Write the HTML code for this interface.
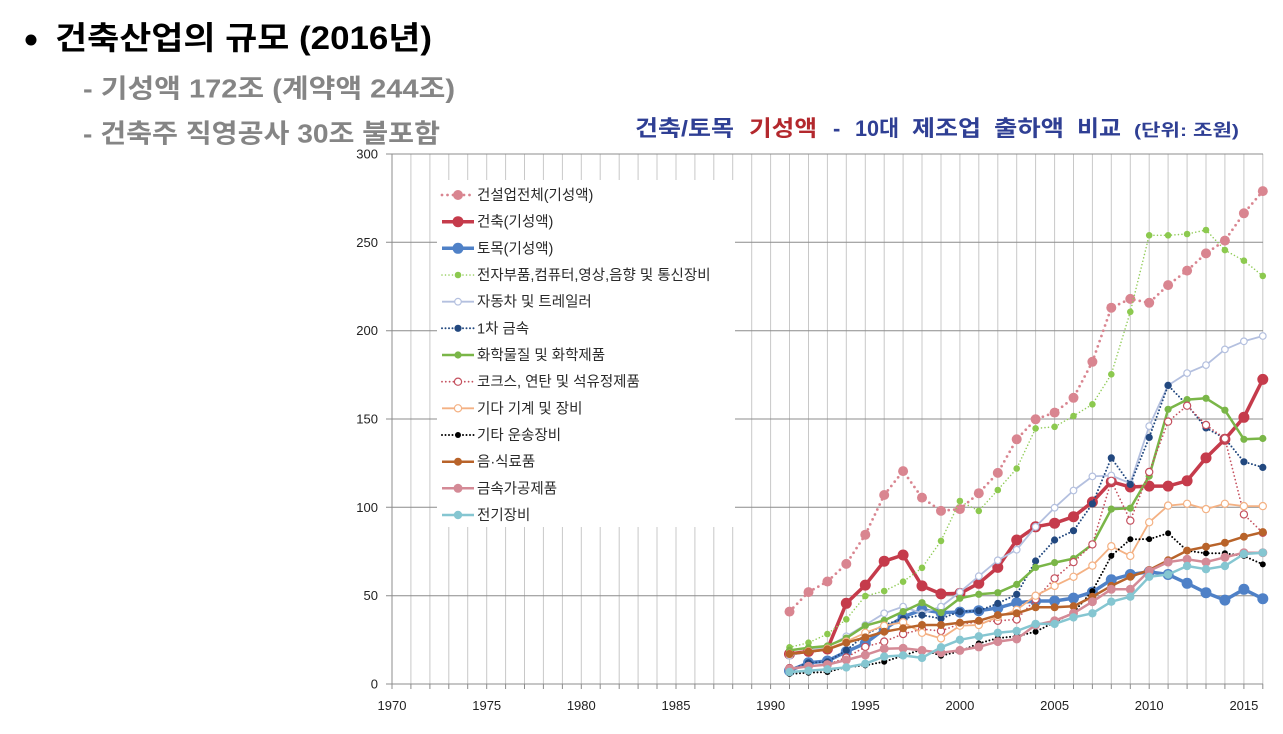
<!DOCTYPE html>
<html><head><meta charset="utf-8">
<style>
html,body{margin:0;padding:0;background:#fff;}
svg{display:block;}
text{font-family:"Liberation Sans","Noto Sans CJK KR",sans-serif;}
.ln{fill:none;stroke-linejoin:round;}
.s1{stroke:#d98590;stroke-width:2.75;stroke-dasharray:0 5.5;stroke-linecap:round;marker-start:url(#m1);marker-mid:url(#m1);marker-end:url(#m1);}
.s2{stroke:#c53b4b;stroke-width:3.5;marker-start:url(#m2);marker-mid:url(#m2);marker-end:url(#m2);}
.s3{stroke:#4f81c7;stroke-width:3.5;marker-start:url(#m3);marker-mid:url(#m3);marker-end:url(#m3);}
.s4{stroke:#92cc5a;stroke-width:1.6;stroke-dasharray:0 3.5;stroke-linecap:round;marker-start:url(#m4);marker-mid:url(#m4);marker-end:url(#m4);}
.s5{stroke:#b4c0df;stroke-width:1.8;marker-start:url(#m5);marker-mid:url(#m5);marker-end:url(#m5);}
.s6{stroke:#22487f;stroke-width:2;stroke-dasharray:0 3.5;stroke-linecap:round;marker-start:url(#m6);marker-mid:url(#m6);marker-end:url(#m6);}
.s7{stroke:#7ab648;stroke-width:2.5;marker-start:url(#m7);marker-mid:url(#m7);marker-end:url(#m7);}
.s8{stroke:#c4505e;stroke-width:1.8;stroke-dasharray:0 3.8;stroke-linecap:round;marker-start:url(#m8);marker-mid:url(#m8);marker-end:url(#m8);}
.s9{stroke:#f4b183;stroke-width:1.8;marker-start:url(#m9);marker-mid:url(#m9);marker-end:url(#m9);}
.s10{stroke:#000;stroke-width:2;stroke-dasharray:0 3.5;stroke-linecap:round;marker-start:url(#m10);marker-mid:url(#m10);marker-end:url(#m10);}
.s11{stroke:#b8632a;stroke-width:2.5;marker-start:url(#m11);marker-mid:url(#m11);marker-end:url(#m11);}
.s12{stroke:#d48a96;stroke-width:2.5;marker-start:url(#m12);marker-mid:url(#m12);marker-end:url(#m12);}
.s13{stroke:#85c6d1;stroke-width:2.5;marker-start:url(#m13);marker-mid:url(#m13);marker-end:url(#m13);}
.lgl{marker-start:none !important;marker-end:none !important;}
.lg{font-size:14.5px;fill:#2a2a2a;}
.ax{font-size:13px;fill:#222;}
</style></head>
<body>
<svg width="1283" height="734" viewBox="0 0 1283 734" xmlns="http://www.w3.org/2000/svg">
<defs>
<marker id="m1" markerUnits="userSpaceOnUse" markerWidth="20" markerHeight="20" refX="10" refY="10" overflow="visible"><circle cx="10" cy="10" r="5" fill="#d98590"/></marker>
<marker id="m2" markerUnits="userSpaceOnUse" markerWidth="20" markerHeight="20" refX="10" refY="10" overflow="visible"><circle cx="10" cy="10" r="5.5" fill="#c53b4b"/></marker>
<marker id="m3" markerUnits="userSpaceOnUse" markerWidth="20" markerHeight="20" refX="10" refY="10" overflow="visible"><circle cx="10" cy="10" r="5.5" fill="#4f81c7"/></marker>
<marker id="m4" markerUnits="userSpaceOnUse" markerWidth="20" markerHeight="20" refX="10" refY="10" overflow="visible"><circle cx="10" cy="10" r="3.3" fill="#8cc94f"/></marker>
<marker id="m5" markerUnits="userSpaceOnUse" markerWidth="20" markerHeight="20" refX="10" refY="10" overflow="visible"><circle cx="10" cy="10" r="3.3" fill="#fff" stroke="#b4c0df" stroke-width="1.2"/></marker>
<marker id="m6" markerUnits="userSpaceOnUse" markerWidth="20" markerHeight="20" refX="10" refY="10" overflow="visible"><circle cx="10" cy="10" r="3.6" fill="#22487f"/></marker>
<marker id="m7" markerUnits="userSpaceOnUse" markerWidth="20" markerHeight="20" refX="10" refY="10" overflow="visible"><circle cx="10" cy="10" r="3.6" fill="#7ab648"/></marker>
<marker id="m8" markerUnits="userSpaceOnUse" markerWidth="20" markerHeight="20" refX="10" refY="10" overflow="visible"><circle cx="10" cy="10" r="3.6" fill="#fff" stroke="#c4505e" stroke-width="1.2"/></marker>
<marker id="m9" markerUnits="userSpaceOnUse" markerWidth="20" markerHeight="20" refX="10" refY="10" overflow="visible"><circle cx="10" cy="10" r="3.6" fill="#fff" stroke="#f4b183" stroke-width="1.2"/></marker>
<marker id="m10" markerUnits="userSpaceOnUse" markerWidth="20" markerHeight="20" refX="10" refY="10" overflow="visible"><circle cx="10" cy="10" r="3" fill="#000"/></marker>
<marker id="m11" markerUnits="userSpaceOnUse" markerWidth="20" markerHeight="20" refX="10" refY="10" overflow="visible"><circle cx="10" cy="10" r="4" fill="#b8632a"/></marker>
<marker id="m12" markerUnits="userSpaceOnUse" markerWidth="20" markerHeight="20" refX="10" refY="10" overflow="visible"><circle cx="10" cy="10" r="4.5" fill="#d48a96"/></marker>
<marker id="m13" markerUnits="userSpaceOnUse" markerWidth="20" markerHeight="20" refX="10" refY="10" overflow="visible"><circle cx="10" cy="10" r="4.2" fill="#85c6d1"/></marker>
</defs>

<!-- Header text -->
<circle cx="31" cy="40" r="5.5" fill="#000"/>
<text x="55" y="49" font-size="32" font-weight="bold" fill="#000" textLength="377" lengthAdjust="spacingAndGlyphs">건축산업의 규모 (2016년)</text>
<text x="83" y="97.5" font-size="26" font-weight="bold" fill="#858585" textLength="372" lengthAdjust="spacingAndGlyphs">- 기성액 172조 (계약액 244조)</text>
<text x="83" y="142.5" font-size="26" font-weight="bold" fill="#858585" textLength="357" lengthAdjust="spacingAndGlyphs">- 건축주 직영공사 30조 불포함</text>

<!-- Chart title -->
<g font-weight="bold" font-size="22" fill="#2f3f94">
<text x="635" y="136" textLength="99" lengthAdjust="spacingAndGlyphs">건축/토목</text>
<text x="749" y="136" textLength="68" lengthAdjust="spacingAndGlyphs" fill="#b3282d">기성액</text>
<text x="833" y="136">-</text>
<text x="855" y="136" textLength="44" lengthAdjust="spacingAndGlyphs">10대</text>
<text x="912" y="136" textLength="69" lengthAdjust="spacingAndGlyphs">제조업</text>
<text x="994" y="136" textLength="70" lengthAdjust="spacingAndGlyphs">출하액</text>
<text x="1077" y="136" textLength="44" lengthAdjust="spacingAndGlyphs">비교</text>
<text x="1134" y="136" font-size="17" textLength="105" lengthAdjust="spacingAndGlyphs">(단위: 조원)</text>
</g>

<!-- vertical gridlines -->
<path stroke="#c8c8c8" stroke-width="1" fill="none" d="M410.9 154V684M429.9 154V684M448.8 154V684M467.7 154V684M486.7 154V684M505.6 154V684M524.5 154V684M543.4 154V684M562.4 154V684M581.3 154V684M600.2 154V684M619.2 154V684M638.1 154V684M657 154V684M676 154V684M694.9 154V684M713.8 154V684M732.7 154V684M751.7 154V684M770.6 154V684M789.5 154V684M808.5 154V684M827.4 154V684M846.3 154V684M865.3 154V684M884.2 154V684M903.1 154V684M922 154V684M941 154V684M959.9 154V684M978.8 154V684M997.8 154V684M1016.7 154V684M1035.6 154V684M1054.6 154V684M1073.5 154V684M1092.4 154V684M1111.3 154V684M1130.3 154V684M1149.2 154V684M1168.1 154V684M1187.1 154V684M1206 154V684M1224.9 154V684M1243.9 154V684M1262.8 154V684"/>
<!-- horizontal gridlines -->
<path stroke="#8c8c8c" stroke-width="1" fill="none" d="M386 154H1263M386 242.3H1263M386 330.7H1263M386 419H1263M386 507.3H1263M386 595.7H1263M386 684H1263"/>
<!-- axes -->
<path stroke="#8c8c8c" stroke-width="1" fill="none" d="M392 154V689"/>
<path stroke="#8c8c8c" stroke-width="1" fill="none" d="M410.9 684V689M429.9 684V689M448.8 684V689M467.7 684V689M486.7 684V689M505.6 684V689M524.5 684V689M543.4 684V689M562.4 684V689M581.3 684V689M600.2 684V689M619.2 684V689M638.1 684V689M657 684V689M676 684V689M694.9 684V689M713.8 684V689M732.7 684V689M751.7 684V689M770.6 684V689M789.5 684V689M808.5 684V689M827.4 684V689M846.3 684V689M865.3 684V689M884.2 684V689M903.1 684V689M922 684V689M941 684V689M959.9 684V689M978.8 684V689M997.8 684V689M1016.7 684V689M1035.6 684V689M1054.6 684V689M1073.5 684V689M1092.4 684V689M1111.3 684V689M1130.3 684V689M1149.2 684V689M1168.1 684V689M1187.1 684V689M1206 684V689M1224.9 684V689M1243.9 684V689M1262.8 684V689"/>

<!-- y labels -->
<g class="ax" text-anchor="end">
<text x="378" y="158.5">300</text>
<text x="378" y="246.8">250</text>
<text x="378" y="335.2">200</text>
<text x="378" y="423.5">150</text>
<text x="378" y="511.8">100</text>
<text x="378" y="600.2">50</text>
<text x="378" y="688.5">0</text>
</g>
<!-- x labels -->
<g class="ax" text-anchor="middle">
<text x="392" y="710">1970</text>
<text x="486.7" y="710">1975</text>
<text x="581.3" y="710">1980</text>
<text x="676" y="710">1985</text>
<text x="770.6" y="710">1990</text>
<text x="865.3" y="710">1995</text>
<text x="959.9" y="710">2000</text>
<text x="1054.6" y="710">2005</text>
<text x="1149.2" y="710">2010</text>
<text x="1243.9" y="710">2015</text>
</g>

<!-- series -->
<polyline class="ln s1" points="789.5,611.6 808.5,592.1 827.4,581.5 846.3,563.9 865.3,534.7 884.2,495 903.1,471.1 922,497.6 941,510.9 959.9,509.1 978.8,493.2 997.8,472.9 1016.7,439.3 1035.6,419.3 1054.6,412.6 1073.5,397.8 1092.4,361.8 1111.3,307.7 1130.3,298.9 1149.2,302.8 1168.1,285.1 1187.1,270.6 1206,253.4 1224.9,240.6 1243.9,213.3 1262.8,191.1"/>
<polyline class="ln s2" points="789.5,654 808.5,651.3 827.4,649 846.3,603.3 865.3,585.1 884.2,561.2 903.1,555 922,585.9 941,593.9 959.9,593.4 978.8,583.3 997.8,567.4 1016.7,540 1035.6,526.8 1054.6,523.2 1073.5,516.7 1092.4,502 1111.3,481.7 1130.3,487 1149.2,486.1 1168.1,486.1 1187.1,480.8 1206,457.9 1224.9,439.3 1243.9,417.3 1262.8,379.4"/>
<polyline class="ln s3" points="789.5,670.7 808.5,662.8 827.4,661 846.3,651.7 865.3,643.4 884.2,629.2 903.1,616.9 922,609.8 941,612.6 959.9,612.1 978.8,610.7 997.8,608 1016.7,602.7 1035.6,601 1054.6,601 1073.5,598.1 1092.4,592.1 1111.3,579.8 1130.3,574.5 1149.2,571.8 1168.1,574.5 1187.1,583.3 1206,592.7 1224.9,600.1 1243.9,589.3 1262.8,598.7"/>
<polyline class="ln s4" points="789.5,647.3 808.5,642.7 827.4,634 846.3,619.3 865.3,596 884.2,591.1 903.1,581.7 922,567.8 941,540.9 959.9,501 978.8,510.9 997.8,490 1016.7,468.5 1035.6,428.4 1054.6,426.8 1073.5,416 1092.4,404.3 1111.3,374.3 1130.3,311.8 1149.2,235.3 1168.1,235.3 1187.1,234 1206,230 1224.9,250.1 1243.9,260.7 1262.8,275.9"/>
<polyline class="ln s5" points="789.5,655.7 808.5,650.4 827.4,646.9 846.3,636.3 865.3,625 884.2,613.3 903.1,606.6 922,613.3 941,606.6 959.9,592.1 978.8,576.2 997.8,560.3 1016.7,549.7 1035.6,526.8 1054.6,507.7 1073.5,490.5 1092.4,476.4 1111.3,475.5 1130.3,483.3 1149.2,426.1 1168.1,385.4 1187.1,373.1 1206,365.1 1224.9,349.4 1243.9,341.3 1262.8,336"/>
<polyline class="ln s6" points="789.5,669.9 808.5,662.8 827.4,661.9 846.3,650.4 865.3,634.5 884.2,625 903.1,618.6 922,615.1 941,618.6 959.9,611.6 978.8,610.7 997.8,603.4 1016.7,594.3 1035.6,561 1054.6,540 1073.5,530.7 1092.4,503.8 1111.3,457.9 1130.3,484.4 1149.2,437.4 1168.1,385.4 1187.1,404.9 1206,427.9 1224.9,438.5 1243.9,461.8 1262.8,467.4"/>
<polyline class="ln s7" points="789.5,650.4 808.5,647.8 827.4,646 846.3,638.1 865.3,625.7 884.2,620.4 903.1,611.6 922,602.7 941,612.6 959.9,598.3 978.8,594.3 997.8,592.7 1016.7,584.4 1035.6,567.4 1054.6,562.6 1073.5,558.6 1092.4,544.4 1111.3,509.1 1130.3,508.2 1149.2,476.1 1168.1,409.3 1187.1,399.6 1206,398.3 1224.9,410.2 1243.9,439.3 1262.8,438.5"/>
<polyline class="ln s8" points="789.5,668.1 808.5,666.3 827.4,664.6 846.3,657.5 865.3,646.9 884.2,641.6 903.1,634 922,629.2 941,631 959.9,623.9 978.8,622.2 997.8,620.8 1016.7,619.5 1035.6,599.2 1054.6,578.4 1073.5,562.1 1092.4,544.4 1111.3,480.8 1130.3,520.6 1149.2,472 1168.1,421.6 1187.1,405.7 1206,425 1224.9,438.5 1243.9,514.4 1262.8,532.8"/>
<polyline class="ln s9" points="789.5,654 808.5,651.3 827.4,648.7 846.3,641.6 865.3,632.8 884.2,625.7 903.1,622.2 922,632.8 941,638.4 959.9,625.7 978.8,625 997.8,616.9 1016.7,609.8 1035.6,595.7 1054.6,585.9 1073.5,576.8 1092.4,565.6 1111.3,546.2 1130.3,555.9 1149.2,522.3 1168.1,505.6 1187.1,503.8 1206,509.1 1224.9,503.8 1243.9,506.1 1262.8,506.1"/>
<polyline class="ln s10" points="789.5,673.9 808.5,672.7 827.4,672 846.3,667.2 865.3,665.4 884.2,661.7 903.1,655.7 922,649.4 941,655.7 959.9,651.3 978.8,643.4 997.8,638.1 1016.7,636.3 1035.6,631.7 1054.6,622.2 1073.5,612.4 1092.4,591.1 1111.3,555.9 1130.3,539.3 1149.2,539.1 1168.1,533.3 1187.1,550.6 1206,553.3 1224.9,553.3 1243.9,555.9 1262.8,564.4"/>
<polyline class="ln s11" points="789.5,654 808.5,651.7 827.4,649.4 846.3,642.7 865.3,637.4 884.2,631.7 903.1,628.3 922,625 941,625 959.9,622.7 978.8,620.8 997.8,615.1 1016.7,613.3 1035.6,607.3 1054.6,607.3 1073.5,606.3 1092.4,596.7 1111.3,585.9 1130.3,576.8 1149.2,570 1168.1,560.3 1187.1,550.6 1206,546.7 1224.9,542.7 1243.9,536.7 1262.8,532.1"/>
<polyline class="ln s12" points="789.5,669 808.5,666.3 827.4,664.6 846.3,660 865.3,655 884.2,648.7 903.1,648.3 922,650.4 941,652.7 959.9,650.4 978.8,646.9 997.8,641.6 1016.7,639 1035.6,625 1054.6,620.8 1073.5,613.3 1092.4,601.7 1111.3,589.3 1130.3,589.3 1149.2,570.9 1168.1,562.1 1187.1,559.3 1206,562.1 1224.9,557.3 1243.9,552.7 1262.8,552.7"/>
<polyline class="ln s13" points="789.5,672 808.5,670.7 827.4,669.3 846.3,667.4 865.3,663.7 884.2,656.6 903.1,655.4 922,657.9 941,647.3 959.9,639.8 978.8,636.3 997.8,632.8 1016.7,631 1035.6,623.9 1054.6,623.9 1073.5,617.4 1092.4,613.3 1111.3,601.7 1130.3,596.7 1149.2,576.8 1168.1,574.5 1187.1,566 1206,569.2 1224.9,566 1243.9,554 1262.8,552.7"/>

<!-- legend -->
<rect x="437" y="180" width="298" height="347" fill="#fff"/>
<polyline class="ln s1" style="marker-start:none;marker-end:none" points="442,195 458,195 474,195"/>
<polyline class="ln s2" style="marker-start:none;marker-end:none" points="442,221.7 458,221.7 474,221.7"/>
<polyline class="ln s3" style="marker-start:none;marker-end:none" points="442,248.3 458,248.3 474,248.3"/>
<polyline class="ln s4" style="marker-start:none;marker-end:none" points="442,275 458,275 474,275"/>
<polyline class="ln s5" style="marker-start:none;marker-end:none" points="442,301.7 458,301.7 474,301.7"/>
<polyline class="ln s6" style="marker-start:none;marker-end:none" points="442,328.3 458,328.3 474,328.3"/>
<polyline class="ln s7" style="marker-start:none;marker-end:none" points="442,355 458,355 474,355"/>
<polyline class="ln s8" style="marker-start:none;marker-end:none" points="442,381.7 458,381.7 474,381.7"/>
<polyline class="ln s9" style="marker-start:none;marker-end:none" points="442,408.3 458,408.3 474,408.3"/>
<polyline class="ln s10" style="marker-start:none;marker-end:none" points="442,435 458,435 474,435"/>
<polyline class="ln s11" style="marker-start:none;marker-end:none" points="442,461.7 458,461.7 474,461.7"/>
<polyline class="ln s12" style="marker-start:none;marker-end:none" points="442,488.3 458,488.3 474,488.3"/>
<polyline class="ln s13" style="marker-start:none;marker-end:none" points="442,515 458,515 474,515"/>
<g class="lg">
<text x="477" y="200">건설업전체(기성액)</text>
<text x="477" y="226.7">건축(기성액)</text>
<text x="477" y="253.3">토목(기성액)</text>
<text x="477" y="280">전자부품,컴퓨터,영상,음향 및 통신장비</text>
<text x="477" y="306.7">자동차 및 트레일러</text>
<text x="477" y="333.3">1차 금속</text>
<text x="477" y="360">화학물질 및 화학제품</text>
<text x="477" y="386.7">코크스, 연탄 및 석유정제품</text>
<text x="477" y="413.3">기다 기계 및 장비</text>
<text x="477" y="440">기타 운송장비</text>
<text x="477" y="466.7">음·식료품</text>
<text x="477" y="493.3">금속가공제품</text>
<text x="477" y="520">전기장비</text>
</g>
</svg>
</body></html>
